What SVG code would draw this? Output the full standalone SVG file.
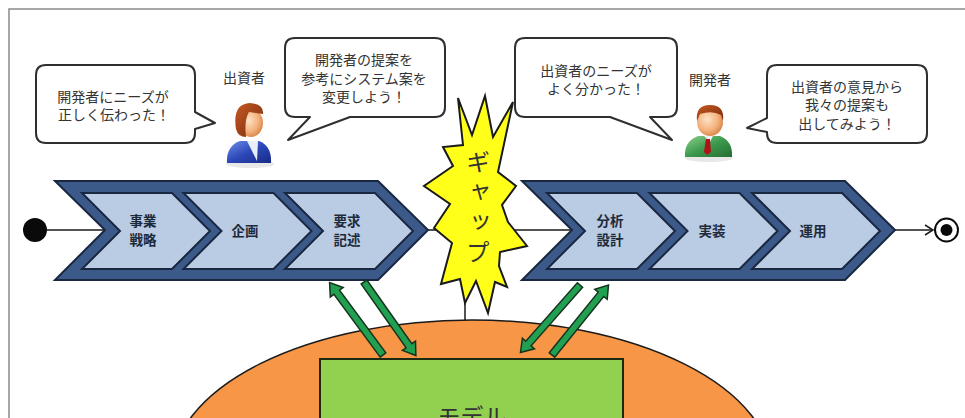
<svg xmlns="http://www.w3.org/2000/svg" xmlns:xlink="http://www.w3.org/1999/xlink" width="965" height="418" viewBox="0 0 965 418">
  <style>
    .bubble { fill: #ffffff; stroke: #2f2f2f; stroke-width: 2; stroke-linejoin: round; }
    .btxt { font-family: "Noto Sans CJK JP", "Noto Sans", sans-serif; font-size: 14px; fill: #333333; text-anchor: middle; }
    .role { font-family: "Noto Sans CJK JP", "Noto Sans", sans-serif; font-size: 14px; fill: #333333; text-anchor: middle; }
    .band { fill: #3b5a8a; stroke: #1a2740; stroke-width: 2; stroke-linejoin: miter; }
    .step { fill: #b9cce4; stroke: #1a2740; stroke-width: 2; }
    .stxt { font-family: "Noto Sans CJK JP", "Noto Sans", sans-serif; font-size: 13.5px; font-weight: bold; fill: #1e2a3a; text-anchor: middle; }
    .gap { font-family: "Noto Sans CJK JP", "Noto Sans", sans-serif; font-size: 24px; fill: #333333; writing-mode: vertical-rl; letter-spacing: 6px; }
    .flow { stroke: #1a1a1a; stroke-width: 1.5; fill: none; }
    .garrow { fill: #22a052; stroke: #16331e; stroke-width: 1.5; stroke-linejoin: miter; }
  </style>
  <defs>
    <!-- chevron step: 90 wide on top, 38 deep notch/tip, 76 high -->
    <path id="chev" d="M0,0 H90 L128,38 L90,76 H0 L38,38 Z"/>
    <!-- hollow block arrow along +x, length 90 -->
    <path id="garrow" d="M0,-3.5 H78 V-8 L90,0 L78,8 V3.5 H0 Z"/>
    <radialGradient id="skin" cx="0.4" cy="0.4" r="0.7">
      <stop offset="0" stop-color="#fde3c6"/>
      <stop offset="0.6" stop-color="#f3b07a"/>
      <stop offset="1" stop-color="#d07a3c"/>
    </radialGradient>
    <linearGradient id="blueSuit" x1="0" y1="0" x2="1" y2="1">
      <stop offset="0" stop-color="#6f8ee6"/>
      <stop offset="0.5" stop-color="#2c47b8"/>
      <stop offset="1" stop-color="#172a86"/>
    </linearGradient>
    <linearGradient id="greenSuit" x1="0" y1="0" x2="1" y2="1">
      <stop offset="0" stop-color="#8fd08f"/>
      <stop offset="0.5" stop-color="#3b9a4c"/>
      <stop offset="1" stop-color="#246c32"/>
    </linearGradient>
    <linearGradient id="hair" x1="0" y1="0" x2="1" y2="1">
      <stop offset="0" stop-color="#c65a22"/>
      <stop offset="1" stop-color="#7a2a0e"/>
    </linearGradient>
  </defs>

  <!-- frame -->
  <path d="M9,418 V9 H965" fill="none" stroke="#8a8a8a" stroke-width="1.5"/>

  <!-- flow lines (drawn under the bands and the burst) -->
  <g id="connectors">
    <line class="flow" x1="47" y1="230" x2="106" y2="230"/>
    <line class="flow" x1="428" y1="230" x2="573" y2="230"/>
    <line class="flow" x1="895" y1="230" x2="933" y2="230"/>
    <polyline class="flow" points="925,225 933,230 925,235"/>
    <line class="flow" x1="465" y1="300" x2="465" y2="323"/>
  </g>

  <!-- model area -->
  <g id="model-area">
    <ellipse cx="472" cy="470" rx="300" ry="150" fill="#f79646" stroke="#1a1a1a" stroke-width="1.5"/>
  </g>
  <g id="model">
    <rect x="320" y="359" width="303" height="80" fill="#92d050" stroke="#1e2a10" stroke-width="2"/>
    <text x="472" y="425" font-family="'Noto Sans CJK JP', 'Noto Sans', sans-serif" font-size="23" fill="#333" text-anchor="middle">モデル</text>
  </g>

  <!-- start node -->
  <g id="start">
    <circle cx="35" cy="230" r="12" fill="#0a0a0a"/>
  </g>

  <!-- investor side process -->
  <g id="investor-band">
    <path class="band" d="M55,181 H378 L428,230 L378,280 H55 L105,230 Z"/>
    <use href="#chev" class="step" transform="translate(82,193)"/>
    <use href="#chev" class="step" transform="translate(183.5,193)"/>
    <use href="#chev" class="step" transform="translate(285,193)"/>
  </g>
  <g id="step-strategy">
    <text class="stxt" x="143" y="226">事業<tspan x="143" dy="19">戦略</tspan></text>
  </g>
  <g id="step-planning">
    <text class="stxt" x="245" y="236">企画</text>
  </g>
  <g id="step-requirements">
    <text class="stxt" x="347" y="226">要求<tspan x="347" dy="19">記述</tspan></text>
  </g>

  <!-- developer side process -->
  <g id="developer-band">
    <path class="band" d="M522,181 H845 L895,230 L845,280 H522 L572,230 Z"/>
    <use href="#chev" class="step" transform="translate(547,193)"/>
    <use href="#chev" class="step" transform="translate(649.5,193)"/>
    <use href="#chev" class="step" transform="translate(752,193)"/>
  </g>
  <g id="step-analysis">
    <text class="stxt" x="610" y="226">分析<tspan x="610" dy="19">設計</tspan></text>
  </g>
  <g id="step-implementation">
    <text class="stxt" x="712" y="236">実装</text>
  </g>
  <g id="step-operation">
    <text class="stxt" x="813" y="236">運用</text>
  </g>

  <!-- end node -->
  <g id="end">
    <circle cx="946.5" cy="230" r="11.5" fill="#fff" stroke="#0a0a0a" stroke-width="2"/>
    <circle cx="946.5" cy="230" r="6" fill="#0a0a0a"/>
  </g>

  <!-- gap burst -->
  <g id="gap">
    <polygon points="458,98 472,135 485,96 493,137 513,102 498,172 516,186 502,205 508,222 527,246 500,252 499,266 507,287 495,282 488,313 476,281 465,303 460,279 441,284 452,243 434,228 450,204 424,186 453,166 443,147 463,145" fill="#ffff1a" stroke="#1a1a1a" stroke-width="2" stroke-linejoin="miter"/>
    <text class="gap" x="478" y="150">ギャップ</text>
  </g>

  <!-- exchange arrows between processes and model -->
  <g id="exchange-arrows">
    <use href="#garrow" class="garrow" transform="translate(383,355) rotate(-126.4)"/>
    <use href="#garrow" class="garrow" transform="translate(364,282) rotate(54.8)"/>
    <use href="#garrow" class="garrow" transform="translate(580,285) rotate(131.4)"/>
    <use href="#garrow" class="garrow" transform="translate(552,355) rotate(-51.1)"/>
  </g>

  <!-- investor -->
  <g id="investor">
    <text class="role" x="244" y="83">出資者</text>
    <ellipse cx="250" cy="164" rx="24" ry="4" fill="#d8d8d8" opacity="0.6"/>
    <path d="M227,163 Q226,146 240,141 L259,141 Q272,146 271,163 Z" fill="url(#blueSuit)"/>
    <path d="M247,141 L258,141 L257,161 Z" fill="#e9eef6"/>
    <ellipse cx="251" cy="123" rx="12" ry="14" fill="url(#skin)"/>
    <path d="M236,129 Q232,104 250,103 Q264,104 263,114 L249,112 Q244,120 246,137 Q238,137 236,129 Z" fill="url(#hair)"/>
  </g>

  <!-- developer -->
  <g id="developer">
    <text class="role" x="710" y="85">開発者</text>
    <ellipse cx="709" cy="158" rx="24" ry="4" fill="#d8d8d8" opacity="0.6"/>
    <path d="M685,157 Q684,141 698,136 L720,136 Q733,141 732,157 Z" fill="url(#greenSuit)"/>
    <path d="M704,136 L713,136 L710,142 Z" fill="#f2f2f2"/>
    <path d="M706,139 L710,139 L711,152 L707,155 L704,152 Z" fill="#b0121a"/>
    <ellipse cx="710" cy="122" rx="13" ry="14" fill="url(#skin)"/>
    <path d="M697,121 Q695,105 710,105 Q725,105 723,121 L721,115 Q712,110 700,114 Z" fill="url(#hair)"/>
  </g>

  <!-- speech bubbles -->
  <g id="bubble-investor-1">
    <path class="bubble" d="M46,65 H185 Q195,65 195,75 V112 L215,123 L195,129 V133 Q195,143 185,143 H46 Q36,143 36,133 V75 Q36,65 46,65 Z"/>
    <text class="btxt" x="113" y="101.5">開発者にニーズが<tspan x="114" dy="18.5">正しく伝わった！</tspan></text>
  </g>
  <g id="bubble-investor-2">
    <path class="bubble" d="M295,38 H435 Q445,38 445,48 V107 Q445,117 435,117 H350 L288,140 L310,117 H295 Q285,117 285,107 V48 Q285,38 295,38 Z"/>
    <text class="btxt" x="364" y="65">開発者の提案を<tspan x="364" dy="18.5">参考にシステム案を</tspan><tspan x="364" dy="18.5">変更しよう！</tspan></text>
  </g>
  <g id="bubble-developer-1">
    <path class="bubble" d="M525,38 H667 Q677,38 677,48 V107 Q677,117 667,117 H650 L672,140 L610,117 H525 Q515,117 515,107 V48 Q515,38 525,38 Z"/>
    <text class="btxt" x="596" y="75.5">出資者のニーズが<tspan x="596" dy="18.5">よく分かった！</tspan></text>
  </g>
  <g id="bubble-developer-2">
    <path class="bubble" d="M777,65 H917 Q927,65 927,75 V133 Q927,143 917,143 H777 Q767,143 767,133 V132 L747,128 L767,118 V75 Q767,65 777,65 Z"/>
    <text class="btxt" x="847" y="91.5">出資者の意見から<tspan x="847" dy="18.5">我々の提案も</tspan><tspan x="847" dy="18.5">出してみよう！</tspan></text>
  </g>
</svg>
